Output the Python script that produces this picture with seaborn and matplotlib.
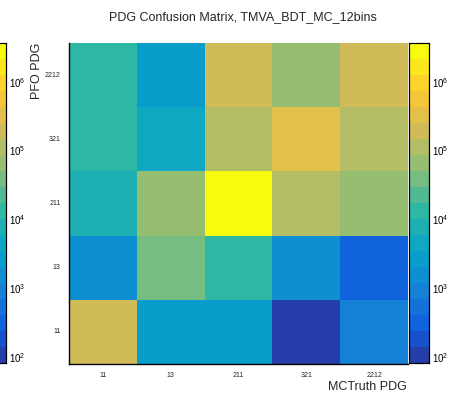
import numpy as np
import pandas as pd
import matplotlib
matplotlib.use("Agg")
import matplotlib.pyplot as plt
import matplotlib.colors as mcolors
import matplotlib.ticker as mticker
import seaborn as sns

# ---- data ----
truth_labels = ["11", "13", "211", "321", "2212"]          # x (MCTruth PDG)
pfo_labels = ["2212", "321", "211", "13", "11"]            # y (PFO PDG), top -> bottom
row_2212 = [13200, 2650, 192000, 65900, 192000]
row_321 = [13200, 4540, 113000, 329000, 113000]
row_211 = [7750, 65900, 3600000, 113000, 65900]
row_13 = [1560, 38600, 13200, 1560, 312]
row_11 = [192000, 2650, 2650, 101, 910]
z_min, z_max = 82, 3.65e6

df = pd.DataFrame([row_2212, row_321, row_211, row_13, row_11],
                  index=pfo_labels, columns=truth_labels)

# ROOT kBird palette, 20 contour levels
stops = [0.0, 0.125, 0.25, 0.375, 0.5, 0.625, 0.75, 0.875, 1.0]
red = [0.2082, 0.0592, 0.0780, 0.0232, 0.1802, 0.5301, 0.8186, 0.9956, 0.9764]
green = [0.1664, 0.3599, 0.5041, 0.6419, 0.7178, 0.7492, 0.7328, 0.7862, 0.9832]
blue = [0.5293, 0.8684, 0.8385, 0.7914, 0.6425, 0.4662, 0.3499, 0.1968, 0.0539]
nlev = 20
fr = [(i + 1) / nlev for i in range(nlev)]
cols = [(np.interp(f, stops, red), np.interp(f, stops, green), np.interp(f, stops, blue)) for f in fr]
cmap = mcolors.ListedColormap(cols)
norm = mcolors.LogNorm(vmin=z_min, vmax=z_max)

sns.set_style("white")
plt.rcParams["font.family"] = ["Liberation Sans", "DejaVu Sans"]
plt.rcParams["mathtext.fontset"] = "custom"
plt.rcParams["mathtext.rm"] = "Liberation Sans"

W, H = 450, 394
fig = plt.figure(figsize=(4.5, 3.94), dpi=100)
ax = fig.add_axes([69 / W, 1 - 364 / H, (408 - 69) / W, (364 - 43) / H])
cax = fig.add_axes([409 / W, 1 - 363 / H, 20 / W, (363 - 43) / H])
cax_left = fig.add_axes([-14 / W, 1 - 363 / H, 20 / W, (363 - 43) / H])

sns.heatmap(df, ax=ax, cmap=cmap, norm=norm, cbar=True, cbar_ax=cax, linewidths=0)
mesh = ax.collections[0]
cb_left = fig.colorbar(mesh, cax=cax_left)

for c in (cax, cax_left):
    c.set_yscale("log")
    c.yaxis.set_major_locator(mticker.LogLocator(base=10))
    c.yaxis.set_minor_locator(mticker.LogLocator(base=10, subs=np.arange(2, 10)))
    c.yaxis.set_major_formatter(mticker.LogFormatterMathtext())
    c.yaxis.set_minor_formatter(mticker.NullFormatter())
    c.set_ylim(z_min, z_max)
    c.tick_params(axis="y", which="major", direction="in", length=6.5, width=1.0,
                  labelsize=7, pad=2, right=True, left=False, color="black", labelcolor="black")
    c.tick_params(axis="y", which="minor", direction="in", length=3.5, width=0.8,
                  right=True, left=False, color="black")
    for s in c.spines.values():
        s.set_visible(True)
        s.set_color("black")
        s.set_linewidth(0.8)
    for child in c.get_children():
        if type(child).__name__ == "_ColorbarSpine":
            child.set_linewidth(0.8)
            child.set_edgecolor("black")

# axes ticks: labels at centres, tick marks at bin edges
n = len(truth_labels)
ax.set_xticks(np.arange(n) + 0.5)
ax.set_xticklabels(truth_labels, rotation=0, fontsize=5)
ax.set_yticks(np.arange(n) + 0.5)
ax.set_yticklabels(pfo_labels, rotation=0, fontsize=5)
ax.tick_params(axis="both", which="major", length=0, pad=6)
ax.set_xticks(np.arange(1, n), minor=True)
ax.set_yticks(np.arange(1, n), minor=True)
ax.tick_params(axis="both", which="minor", direction="in", length=6.5, width=1.0,
               color="black", bottom=True, left=True)
ax.set_xlabel("")
ax.set_ylabel("")
for side in ["left", "bottom"]:
    ax.spines[side].set_visible(True)
    ax.spines[side].set_color("black")
    ax.spines[side].set_linewidth(1.0)
for side in ["top", "right"]:
    ax.spines[side].set_visible(False)

fig.text(243 / W, 1 - 17 / H, "PDG Confusion Matrix, TMVA_BDT_MC_12bins",
         ha="center", va="center", fontsize=9)
fig.text(407 / W, 1 - 387 / H, "MCTruth PDG", ha="right", va="center", fontsize=9)
fig.text(37 / W, 1 - 43 / H, "PFO PDG", ha="center", va="top", rotation=90, fontsize=9)

fig.savefig("out.png", dpi=100, facecolor="white")
